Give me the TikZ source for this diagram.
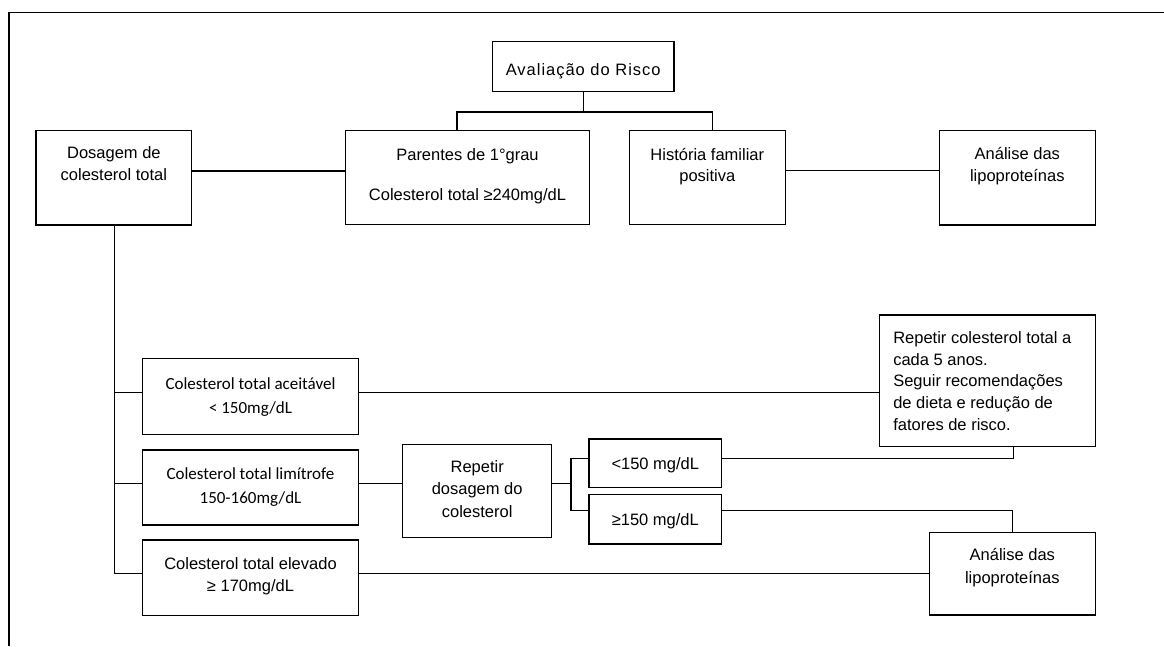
\documentclass[tikz,border=0pt]{standalone}
\usepackage{fontspec}
\setmainfont{Liberation Sans}
\newfontfamily\calib{Carlito}
\newcommand\bx[5]{\parbox[c][#2][t]{#1}{\vspace*{#3}\centering\baselineskip=#4\relax\rule{0pt}{14pt}#5\par}}
\newcommand\bxl[5]{\parbox[c][#2][t]{#1}{\vspace*{#3}\raggedright\leftskip=14pt\baselineskip=#4\relax\rule{0pt}{14pt}#5\par}}
\tikzset{
  box/.style={draw, line width=1.3pt, inner sep=0pt, outer sep=0pt, font=\fontsize{16.5pt}{21.7pt}\selectfont},
  cbox/.style={box, font=\calib\fontsize{17pt}{24pt}\selectfont},
  conn/.style={line width=1.3pt},
}
\begin{document}
\begin{tikzpicture}[x=1pt,y=-1pt]
\useasboundingbox (0,0) rectangle (1164,646);
\draw[conn] (9,646) -- (9,12.5) -- (1164,12.5);

\node[box] (av) at (583.2,66.7) {\bx{181.7pt}{50pt}{19.3pt}{21.7pt}{\addfontfeature{LetterSpace=6}Avaliação do Risco}};
\node[box] (dos) at (113.9,177.9) {\bx{155.7pt}{94.3pt}{13.6pt}{21.7pt}{Dosagem de\\colesterol total}};
\node[box] (par) at (467.5,177.5) {\bx{243.6pt}{93.6pt}{16pt}{21.7pt}{Parentes de 1°grau\\[17.6pt]Colesterol total ≥240mg/dL}};
\node[box] (his) at (707.3,177.5) {\bx{156pt}{93.6pt}{15.3pt}{21pt}{História familiar\\positiva}};
\node[box] (an1) at (1017.3,177.9) {\bx{156pt}{94.3pt}{14.6pt}{21.7pt}{Análise das\\lipoproteínas}};

\node[cbox] (ac) at (250.5,396.3) {\bx{215.6pt}{76pt}{16.7pt}{24.3pt}{Colesterol total aceitável\\< 150mg/dL}};
\node[cbox] (li) at (250.5,487.5) {\bx{215.6pt}{75pt}{15.3pt}{24pt}{Colesterol total limítrofe\\150-160mg/dL}};
\node[box] (el) at (250.5,577.7) {\bx{215.6pt}{75.3pt}{15pt}{22.7pt}{Colesterol total elevado\\≥ 170mg/dL}};
\node[box] (rd) at (477.2,490.8) {\bx{149pt}{93pt}{14pt}{22.5pt}{Repetir\\dosagem do\\colesterol}};
\node[box] (lt) at (655.3,463.2) {\bx{132.7pt}{48.3pt}{16.3pt}{21.7pt}{<150 mg/dL}};
\node[box] (ge) at (655.3,519.2) {\bx{132.7pt}{49.7pt}{16.7pt}{21.7pt}{≥150 mg/dL}};
\node[box] (rc) at (987.3,380.9) {\bxl{216pt}{131.7pt}{14.3pt}{21.7pt}{Repetir colesterol total a\\cada 5 anos.\\Seguir recomendações\\de dieta e redução de\\fatores de risco.}};
\node[box] (an2) at (1012.3,573.7) {\bx{166pt}{82.7pt}{13.7pt}{23.3pt}{Análise das\\lipoproteínas}};

% top tree
\coordinate (j) at (583.2,112);
\draw[conn] (av.south) -- (j);
\draw[conn] ([xshift=-10.5pt]par.north) |- (j) -| ([xshift=5.4pt]his.north);
\draw[conn] ([yshift=7pt]dos.east) -- ([yshift=7pt]dos.east -| par.west);
\draw[conn] ([yshift=6.8pt]his.east) -- ([yshift=6.8pt]his.east -| an1.west);

% left trunk
\coordinate (acw) at ([yshift=4pt]ac.west);
\coordinate (liw) at ([yshift=4pt]li.west);
\coordinate (elw) at ([yshift=4pt]el.west);
\draw[conn] ([xshift=0.4pt]dos.south) |- (elw);
\draw[conn] (acw) -- ([xshift=0.4pt]dos.south |- acw);
\draw[conn] (liw) -- ([xshift=0.4pt]dos.south |- liw);

% right links
\draw[conn] ([yshift=4pt]ac.east) -- ([yshift=4pt]ac.east -| rc.west);
\draw[conn] ([yshift=4pt]li.east) -- ([yshift=4pt]li.east -| rd.west);
\draw[conn] ([yshift=7.5pt]rd.east) -- ++(19.3,0) coordinate (sp);
\coordinate (ltw) at ([yshift=5pt]lt.west);
\coordinate (gew) at ([yshift=8.5pt]ge.west);
\draw[conn] (ltw) -| (sp);
\draw[conn] (gew) -| (sp);
\draw[conn] ([yshift=5pt]lt.east) -| ([xshift=26pt]rc.south);
\draw[conn] ([yshift=8.5pt]ge.east) -| (an2.north);
\draw[conn] ([yshift=4pt]el.east) -- ([yshift=4pt]el.east -| an2.west);
\end{tikzpicture}
\end{document}
